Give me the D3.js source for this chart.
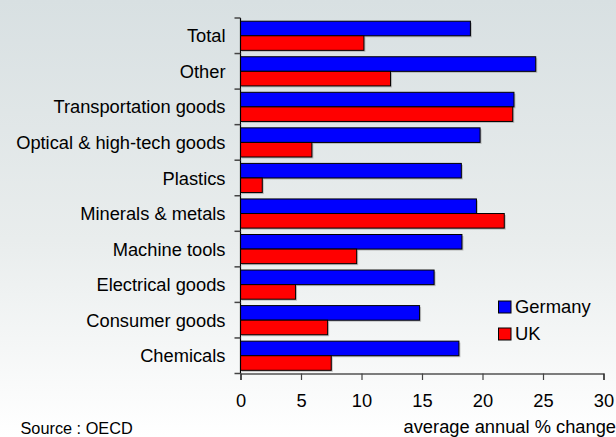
<!DOCTYPE html>
<html><head><meta charset="utf-8">
<script src="https://cdn.jsdelivr.net/npm/d3@7"></script>
<style>html,body{margin:0;padding:0;overflow:hidden;background:#fff}</style>
</head><body>
<svg id="c" width="616" height="437"></svg>
<script>
const categories = ["Total","Other","Transportation goods","Optical & high-tech goods","Plastics","Minerals & metals","Machine tools","Electrical goods","Consumer goods","Chemicals"];
const germany = [19.0,24.4,22.6,19.8,18.25,19.5,18.3,16.0,14.8,18.05];
const uk = [10.2,12.4,22.5,5.9,1.8,21.8,9.6,4.55,7.2,7.5];
const seriesNames = ["Germany","UK"];
const seriesColors = ["#0000ff","#ff0000"];
const xTicks = [0,5,10,15,20,25,30];

(function(){
const FONT = "Liberation Sans, Arial, sans-serif";
const svg = d3.select("#c");
const defs = svg.append("defs");
const g = defs.append("linearGradient").attr("id","bg").attr("x1",0).attr("y1",0).attr("x2",0).attr("y2",1);
g.append("stop").attr("offset","0%").attr("stop-color","#d8e0e2");
g.append("stop").attr("offset","55%").attr("stop-color","#e9eded");
g.append("stop").attr("offset","100%").attr("stop-color","#ffffff");
svg.append("rect").attr("width",616).attr("height",437).attr("fill","url(#bg)");

const mLeft = 240.5, mRight = 603.5, mTop = 18, mBottom = 373.5;
const x = d3.scaleLinear().domain([0,30]).range([mLeft,mRight]);
const y = d3.scaleBand().domain(categories).range([mTop,mBottom]).paddingInner(0.18).paddingOuter(0.09);
const ys = d3.scaleBand().domain(seriesNames).range([0,y.bandwidth()]);

const data = categories.map((c,i)=>({c, vals:[germany[i],uk[i]]}));
const groups = svg.append("g").selectAll("g").data(data).join("g")
  .attr("transform",d=>`translate(0,${y(d.c)})`);
groups.selectAll("rect.sh").data(d=>d.vals.map((v,j)=>({v,j}))).join("rect")
  .attr("class","sh")
  .attr("x",x(0)+1.5).attr("y",d=>ys(seriesNames[d.j])+1.5)
  .attr("width",d=>x(d.v)-x(0)).attr("height",ys.bandwidth())
  .attr("fill","#999").attr("opacity",0.6);
groups.selectAll("rect.b").data(d=>d.vals.map((v,j)=>({v,j}))).join("rect")
  .attr("class","b")
  .attr("x",x(0)).attr("y",d=>ys(seriesNames[d.j]))
  .attr("width",d=>x(d.v)-x(0)).attr("height",ys.bandwidth())
  .attr("fill",d=>seriesColors[d.j]).attr("stroke","#000").attr("stroke-width",1);

const yAxis = svg.append("g").attr("transform",`translate(${mLeft},0)`);
yAxis.append("line").attr("x1",0).attr("x2",0).attr("y1",mTop).attr("y2",mBottom).attr("stroke","#000").attr("stroke-width",1.2);
const step = (mBottom-mTop)/categories.length;
d3.range(categories.length+1).forEach(i=>{
  yAxis.append("line").attr("x1",-6).attr("x2",0).attr("y1",mTop+i*step).attr("y2",mTop+i*step).attr("stroke","#444").attr("stroke-width",1.5);
});
svg.append("g").selectAll("text").data(categories).join("text")
  .attr("x",225.5).attr("y",d=>y(d)+y.bandwidth()/2)
  .attr("dy","0.36em").attr("text-anchor","end")
  .attr("font-family",FONT).attr("font-size",18.3).attr("fill","#000")
  .text(d=>d);

const xAxis = svg.append("g").attr("transform",`translate(0,${mBottom})`)
  .call(d3.axisBottom(x).tickValues(xTicks).tickSize(6.5).tickPadding(14).tickFormat(d3.format("d")));
xAxis.select(".domain").attr("stroke","#000").attr("stroke-width",1.2);
xAxis.selectAll(".tick line").attr("stroke","#444").attr("stroke-width",1.2);
xAxis.selectAll(".tick text").attr("font-family",FONT).attr("font-size",18.3).attr("fill","#000");

svg.append("text").attr("x",616).attr("y",432.5).attr("text-anchor","end")
  .attr("font-family",FONT).attr("font-size",18.3).attr("fill","#000")
  .text("average annual % change");
svg.append("text").attr("x",20.5).attr("y",434)
  .attr("font-family",FONT).attr("font-size",16.3).attr("fill","#000")
  .text("Source : OECD");

const lg = svg.append("g").attr("transform","translate(498.5,301)");
seriesNames.forEach((s,i)=>{
  lg.append("rect").attr("x",0).attr("y",i*27).attr("width",12.5).attr("height",12)
    .attr("fill",seriesColors[i]).attr("stroke","#000").attr("stroke-width",1);
  lg.append("text").attr("x",16.5).attr("y",i*26.5+12.3)
    .attr("font-family",FONT).attr("font-size",18.4).attr("fill","#000").text(s);
});
})();
</script>
</body></html>
